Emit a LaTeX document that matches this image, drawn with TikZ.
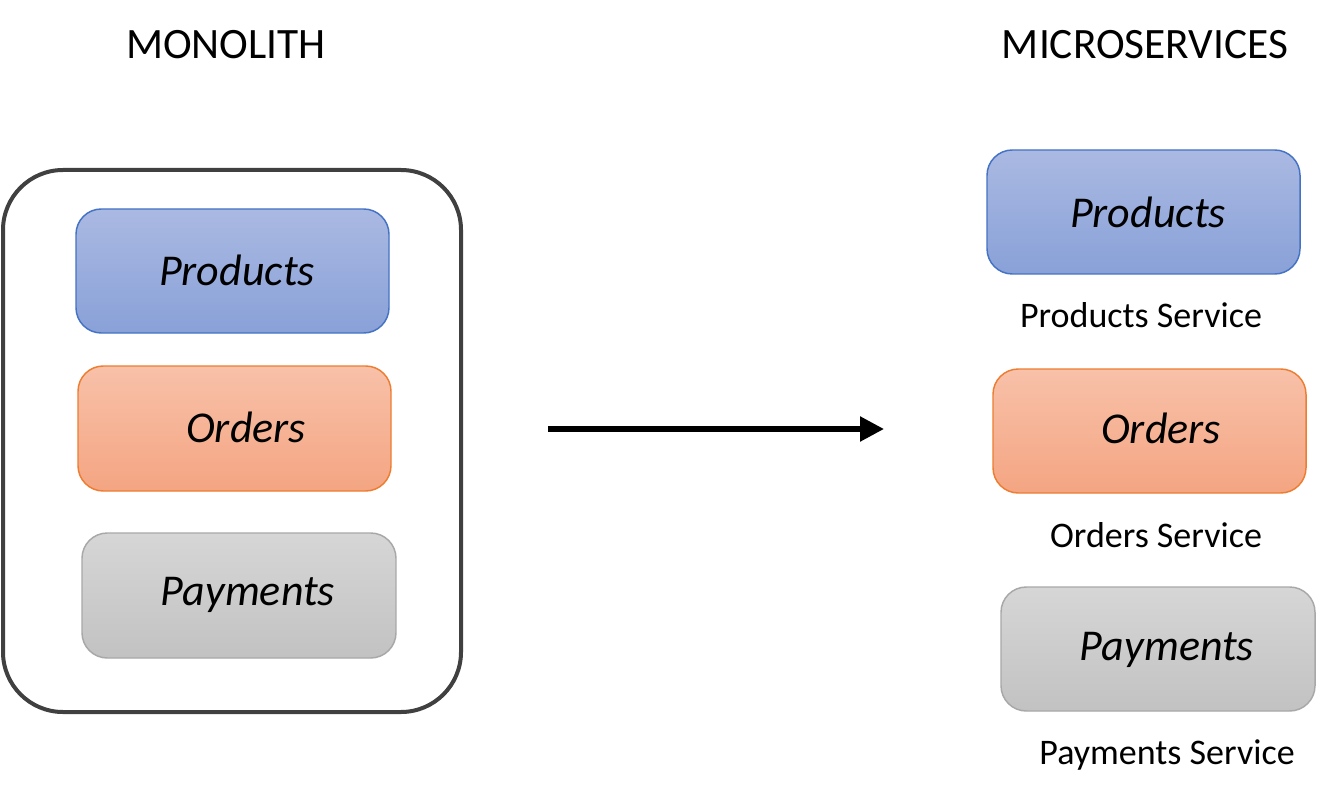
\documentclass[tikz,border=0pt]{standalone}
\usepackage{fontspec}
\setmainfont{Carlito}
\usetikzlibrary{arrows.meta}
\definecolor{bluetop}{HTML}{AAB9E2}
\definecolor{bluebot}{HTML}{89A1D8}
\definecolor{blueline}{HTML}{4472C4}
\definecolor{orgtop}{HTML}{F8C1A9}
\definecolor{orgbot}{HTML}{F4A582}
\definecolor{orgline}{HTML}{ED7D31}
\definecolor{graytop}{HTML}{D6D6D6}
\definecolor{graybot}{HTML}{C2C2C2}
\definecolor{grayline}{HTML}{A8A8A8}
\definecolor{outerline}{HTML}{404040}
\tikzset{
  svcbox/.style={rounded corners=19pt, line width=1.1pt},
  bluebox/.style={svcbox, draw=blueline, top color=bluetop, bottom color=bluebot},
  orgbox/.style={svcbox, draw=orgline, top color=orgtop, bottom color=orgbot},
  graybox/.style={svcbox, draw=grayline, top color=graytop, bottom color=graybot},
  boxtext/.style={font=\fontsize{33}{38}\selectfont\itshape, inner sep=0pt},
  title/.style={font=\fontsize{32.5}{38}\selectfont, inner sep=0pt},
  caption/.style={font=\fontsize{27}{32}\selectfont, inner sep=0pt}
}
\begin{document}
\begin{tikzpicture}[x=0.75pt,y=-0.75pt]
\useasboundingbox[fill=white] (0,0) rectangle (1330,791);
% titles
\node[title] (tmono) at (226,45) {MONOLITH};
\node[title] (tmicro) at (1145,45) {MICROSERVICES};
% outer monolith
\draw[line width=3pt, draw=outerline, rounded corners=45pt] (3,170) rectangle (461,712);
% left boxes
\path[bluebox] (76,209) rectangle (389,333);
\node[boxtext] (lprod) at (237,270) {Products};
\path[orgbox] (78,366) rectangle (391,491);
\node[boxtext] (lord) at (246,427) {Orders};
\path[graybox] (82,533) rectangle (396,658);
\node[boxtext] (lpay) at (248,595) {Payments};
% right boxes
\path[bluebox] (987,150) rectangle (1300,274);
\node[boxtext] (rprod) at (1148,212) {Products};
\node[caption] (cprod) at (1141,315) {Products Service};
\path[orgbox] (993,369) rectangle (1306,493);
\node[boxtext] (rord) at (1161,428) {Orders};
\node[caption] (cord) at (1156,535) {Orders Service};
\path[graybox] (1001,587) rectangle (1315,711);
\node[boxtext] (rpay) at (1167,650) {Payments};
\node[caption] (cpay) at (1167,755) {Payments Service};
% arrow
\coordinate (arrA) at (548,429);
\coordinate (arrB) at (884,429);
\draw[line width=4pt, -{Triangle[length=18pt,width=18pt]}] (arrA) -- (arrB);
\end{tikzpicture}
\end{document}
